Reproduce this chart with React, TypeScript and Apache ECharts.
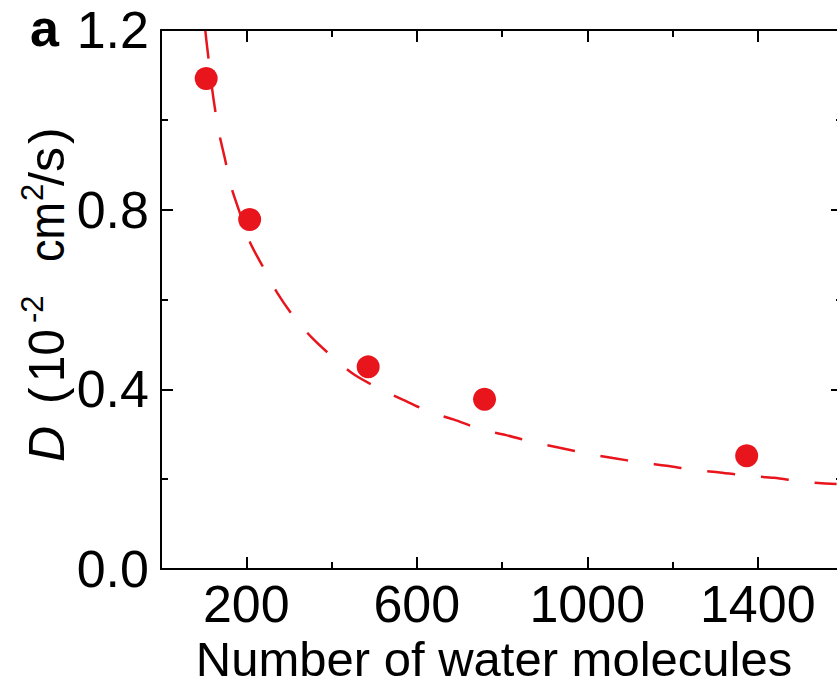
import React, { useEffect, useRef } from 'react';
import * as echarts from 'echarts';

// Measured data points
const waterCount = [106, 208, 486, 759, 1374];
const diffusion = [1.092, 0.778, 0.45, 0.378, 0.252];

// Dashed fit curve
const fitN = [104, 108, 120, 125, 135, 151, 164, 186, 209, 242, 272, 312, 354, 405, 453, 512, 567, 630, 686, 751, 810, 878, 935, 1001, 1060, 1128, 1186, 1255, 1311, 1382, 1438, 1508, 1585];
const fitD = [1.198, 1.164, 1.069, 1.035, 0.976, 0.909, 0.853, 0.79, 0.727, 0.668, 0.616, 0.561, 0.515, 0.47, 0.433, 0.402, 0.377, 0.35, 0.333, 0.311, 0.298, 0.281, 0.27, 0.257, 0.247, 0.237, 0.23, 0.22, 0.215, 0.207, 0.203, 0.194, 0.189];

// Ticks
const xMajorTicks = [200, 600, 1000, 1400];
const xMinorTicks = [400, 800, 1200];
const yMajorTicks = [0, 0.4, 0.8, 1.2];
const yMinorTicks = [0.2, 0.6, 1.0];

const xTitle = 'Number of water molecules';
const panelLabel = 'a';

const FONT = '"Liberation Sans", Arial, Helvetica, sans-serif';
const RED = '#e8151d';

function xAxisDef(position: 'top' | 'bottom', ticks: number[], len: number, showLine: boolean, showLabel: boolean) {
  return {
    type: 'value',
    position,
    min: 0,
    max: 1600,
    offset: 0,
    axisLine: { show: showLine, onZero: false, lineStyle: { color: '#000', width: 2 } },
    axisTick: { show: true, inside: true, length: len, customValues: ticks, lineStyle: { color: '#000', width: 2 } },
    axisLabel: {
      show: showLabel,
      customValues: ticks,
      fontSize: 52,
      fontFamily: FONT,
      color: '#000',
      margin: 9,
      formatter: (v: number) => String(v),
    },
    splitLine: { show: false },
  };
}

function yAxisDef(position: 'left' | 'right', ticks: number[], len: number, showLine: boolean, showLabel: boolean) {
  return {
    type: 'value',
    position,
    min: 0,
    max: 1.2,
    offset: 0,
    axisLine: { show: showLine, onZero: false, lineStyle: { color: '#000', width: 2 } },
    axisTick: { show: true, inside: true, length: len, customValues: ticks, lineStyle: { color: '#000', width: 2 } },
    axisLabel: {
      show: showLabel,
      customValues: ticks,
      fontSize: 52,
      fontFamily: FONT,
      color: '#000',
      margin: 12,
      padding: [8, 0, 0, 0],
      formatter: (v: number) => v.toFixed(1),
    },
    splitLine: { show: false },
  };
}

export default function App() {
  const ref = useRef<HTMLDivElement>(null);

  useEffect(() => {
    if (!ref.current) return;
    const chart = echarts.init(ref.current, undefined, { renderer: 'svg' });

    const mainFont = `50px ${FONT}`;
    const supFont = `31px ${FONT}`;
    const mainY = 47;
    const supY = 32;
    const t = (text: string, x: number, y: number, font: string, scaleX = 1) => ({
      type: 'text',
      x,
      y,
      scaleX,
      style: { text, font, fill: '#000', align: 'left', verticalAlign: 'middle' },
    });

    const option: any = {
      animation: false,
      backgroundColor: '#fff',
      grid: { left: 161, top: 30, right: -6, bottom: 116, containLabel: false, outerBoundsMode: 'none' },
      xAxis: [
        xAxisDef('bottom', xMajorTicks, 12, true, true),
        xAxisDef('bottom', xMinorTicks, 7, false, false),
        xAxisDef('top', xMajorTicks, 12, true, false),
        xAxisDef('top', xMinorTicks, 7, false, false),
      ],
      yAxis: [
        yAxisDef('left', yMajorTicks, 12, true, true),
        yAxisDef('left', yMinorTicks, 7, false, false),
        yAxisDef('right', yMajorTicks, 12, true, false),
        yAxisDef('right', yMinorTicks, 7, false, false),
      ],
      series: [
        {
          type: 'line',
          xAxisIndex: 0,
          yAxisIndex: 0,
          data: fitN.map((n, i) => [n, fitD[i]]),
          smooth: 0.3,
          showSymbol: false,
          symbol: 'none',
          clip: true,
          z: 2,
          lineStyle: { color: RED, width: 2.5, type: [28, 26], cap: 'butt' },
        },
        {
          type: 'scatter',
          xAxisIndex: 0,
          yAxisIndex: 0,
          data: waterCount.map((n, i) => [n, diffusion[i]]),
          symbol: 'circle',
          symbolSize: 23,
          z: 3,
          itemStyle: { color: RED, opacity: 1 },
        },
      ],
      graphic: [
        {
          type: 'text',
          x: 30,
          y: 28,
          style: { text: panelLabel, font: `bold 52px ${FONT}`, fill: '#000', align: 'left', verticalAlign: 'middle' },
        },
        {
          type: 'text',
          x: 494,
          y: 659,
          style: { text: xTitle, font: `49px ${FONT}`, lineHeight: 40, fill: '#000', align: 'center', verticalAlign: 'middle' },
        },
        {
          type: 'group',
          x: 0,
          y: 462,
          rotation: Math.PI / 2,
          children: [
            t('D', 0, mainY, `italic 50px ${FONT}`),
            t('(', 58, mainY, mainFont),
            t('10', 80, mainY, mainFont, 0.95),
            t('-2', 139, supY, supFont),
            t('cm', 200, mainY, mainFont, 0.9),
            t('2', 261, supY, supFont),
            t('/s', 276, mainY, mainFont),
            t(')', 318, mainY, mainFont),
          ],
        },
      ],
    };

    chart.setOption(option);
    return () => chart.dispose();
  }, []);

  return (
    <div
      ref={ref}
      style={{ position: 'absolute', left: 0, top: 0, width: 837, height: 685, background: '#fff' }}
    />
  );
}
